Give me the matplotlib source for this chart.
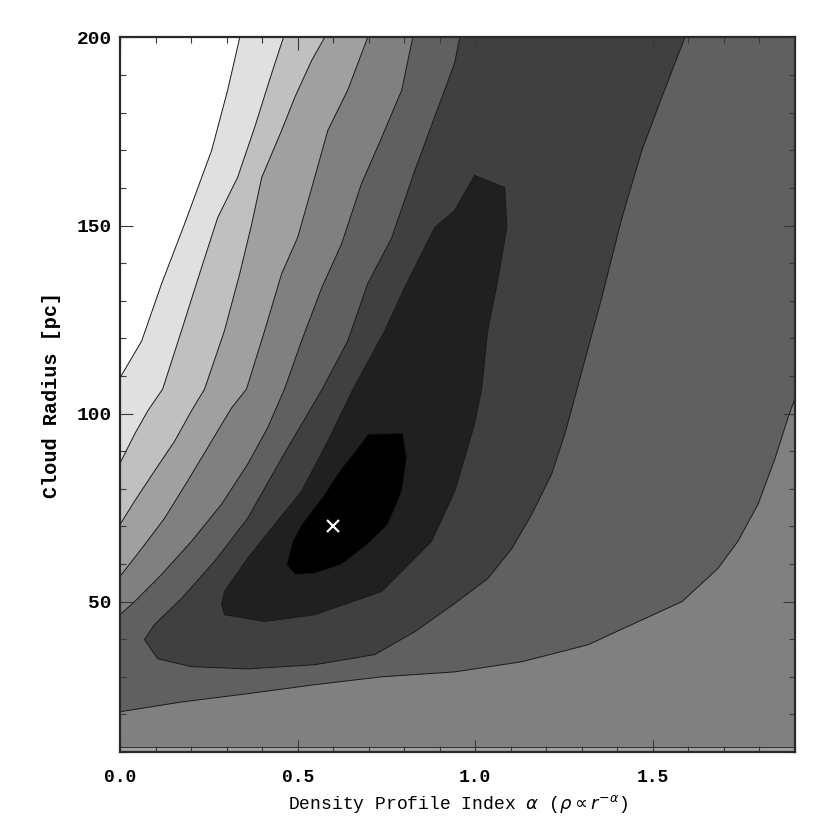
import matplotlib
matplotlib.use("Agg")
import matplotlib.pyplot as plt
from matplotlib.ticker import MultipleLocator, FormatStrFormatter

# ---------------- data ----------------
x_lim = (0.0, 1.9)
y_lim = (10.0, 200.0)

# fill grey value of each chi^2 band, from the minimum (0) outward (8)
band_gray = [0, 32, 64, 96, 128, 160, 192, 224, 255]

# contour between band 8 (white) and band 7
c7_alpha = [0.0, 0.061, 0.117, 0.182, 0.258, 0.303, 0.337]
c7_radius = [109.5, 119.3, 134.5, 150.5, 170.0, 186.0, 200.0]

# contour between band 7 and band 6
c6_alpha = [0.0, 0.041, 0.078, 0.120, 0.173, 0.224, 0.275, 0.331, 0.379, 0.427, 0.460]
c6_radius = [86.8, 94.5, 100.7, 106.5, 122.0, 137.2, 152.1, 162.8, 176.1, 190.5, 200.0]

# contour between band 6 and band 5
c5_alpha = [0.0, 0.041, 0.097, 0.154, 0.201, 0.238, 0.294, 0.337, 0.371, 0.399, 0.455, 0.492, 0.540, 0.576]
c5_radius = [70.5, 76.7, 84.7, 92.7, 100.7, 106.5, 122.0, 137.2, 150.5, 162.8, 175.3, 184.1, 194.0, 200.0]

# contour between band 5 and band 4
c4_alpha = [0.0, 0.061, 0.125, 0.190, 0.258, 0.314, 0.356, 0.407, 0.455, 0.500, 0.540, 0.585, 0.641, 0.697]
c4_radius = [56.7, 64.1, 72.1, 82.0, 92.7, 101.5, 106.5, 122.0, 137.2, 146.8, 160.1, 175.3, 186.0, 200.0]

# contour between band 4 and band 3 (upper-left side)
c3_alpha = [0.0, 0.041, 0.117, 0.201, 0.286, 0.359, 0.415, 0.463, 0.511, 0.568, 0.624, 0.680, 0.737, 0.793, 0.824]
c3_radius = [46.5, 50.0, 57.2, 66.0, 75.9, 86.5, 96.1, 106.5, 119.3, 133.5, 145.2, 161.2, 173.5, 186.0, 200.0]

# contour between band 3 and band 4 (lower-right side)
c3b_alpha = [0.0, 0.173, 0.359, 0.548, 0.737, 0.942, 1.131, 1.317, 1.441, 1.582, 1.683, 1.739, 1.796, 1.844, 1.880, 1.900]
c3b_radius = [20.7, 23.3, 25.5, 27.9, 30.0, 31.3, 34.0, 38.5, 43.9, 50.0, 58.8, 66.0, 75.9, 88.1, 98.8, 104.1]

# contour between band 3 and band 2 (U shape open at the top)
c2_alpha = [0.956, 0.942, 0.830, 0.765, 0.697, 0.641, 0.568, 0.455, 0.359, 0.266, 0.173, 0.097, 0.069,
            0.106, 0.201, 0.359, 0.548, 0.717, 0.830, 0.942, 1.035, 1.103, 1.159, 1.215, 1.252, 1.286,
            1.356, 1.413, 1.469, 1.525, 1.590]
c2_radius = [200.0, 193.2, 164.7, 146.8, 134.5, 119.3, 106.3, 88.1, 72.1, 60.7, 50.8, 43.9, 39.9,
             34.8, 32.7, 32.1, 33.2, 35.9, 42.0, 49.5, 56.1, 64.1, 73.2, 83.9, 94.5, 106.3,
             130.8, 152.1, 170.0, 184.1, 200.0]

# contour between band 2 and band 1 (closed)
c1_alpha = [0.998, 1.083, 1.089, 1.063, 1.035, 1.018, 0.998, 0.970, 0.942, 0.877, 0.737, 0.548, 0.407,
            0.294, 0.286, 0.294, 0.359, 0.435, 0.511, 0.585, 0.655, 0.745, 0.801, 0.886, 0.942]
c1_radius = [163.3, 160.1, 149.5, 135.3, 122.0, 106.5, 97.2, 88.1, 79.3, 66.0, 52.7, 46.5, 44.7,
             46.5, 49.2, 52.7, 61.5, 70.5, 79.3, 92.7, 106.3, 122.0, 133.5, 149.5, 154.0]

# contour between band 1 and band 0 (closed, around the minimum)
c0_alpha = [0.697, 0.796, 0.807, 0.793, 0.754, 0.697, 0.624, 0.548, 0.492, 0.469, 0.486, 0.511, 0.568, 0.624, 0.669]
c0_radius = [94.5, 94.8, 88.1, 79.3, 70.5, 65.2, 59.9, 57.5, 57.2, 59.9, 66.0, 70.5, 77.5, 85.5, 90.8]

# thin band-5 strip along the smallest radii
strip_radius = 11.2

# best fit
best_alpha = 0.6
best_radius = 70.0

x_major = [0.0, 0.5, 1.0, 1.5]
y_major = [50, 100, 150, 200]

# ---------------- drawing ----------------
def gray(level):
    v = band_gray[level] / 255.0
    return (v, v, v)

fig = plt.figure(figsize=(8.3, 8.3), dpi=100)
ax = fig.add_axes([120 / 830, 1 - 752 / 830, 675 / 830, 714.5 / 830])
ax.set_xlim(*x_lim)
ax.set_ylim(*y_lim)
ax.set_facecolor(gray(8))

x0, x1 = x_lim
y0, y1 = y_lim

# open contours from left edge to top edge: fill everything to their lower right
for xs, ys, lev in [(c7_alpha, c7_radius, 7), (c6_alpha, c6_radius, 6),
                    (c5_alpha, c5_radius, 5), (c4_alpha, c4_radius, 4),
                    (c3_alpha, c3_radius, 3)]:
    ax.fill(xs + [x1, x1, x0], ys + [y1, y0, y0], color=gray(lev), lw=0)

# lower-right region back to band 4
ax.fill(c3b_alpha + [x1, x0], c3b_radius + [y0, y0], color=gray(4), lw=0)
# U-shaped band 2
ax.fill(c2_alpha, c2_radius, color=gray(2), lw=0)
# closed band 1 and band 0
ax.fill(c1_alpha, c1_radius, color=gray(1), lw=0)
ax.fill(c0_alpha, c0_radius, color=gray(0), lw=0)
# strip at bottom
ax.fill([x0, x1, x1, x0], [y0, y0, strip_radius, strip_radius], color=gray(5), lw=0)

line_kw = dict(color="#1a1a1a", lw=0.7, solid_joinstyle="round")
for xs, ys in [(c7_alpha, c7_radius), (c6_alpha, c6_radius), (c5_alpha, c5_radius),
               (c4_alpha, c4_radius), (c3_alpha, c3_radius), (c3b_alpha, c3b_radius),
               (c2_alpha, c2_radius)]:
    ax.plot(xs, ys, **line_kw)
for xs, ys in [(c1_alpha, c1_radius), (c0_alpha, c0_radius)]:
    ax.plot(xs + xs[:1], ys + ys[:1], **line_kw)
ax.plot([x0, x1], [strip_radius, strip_radius], color="#303030", lw=0.7)

ax.plot([best_alpha], [best_radius], marker="x", color="white", ms=9, mew=1.6, ls="none")

# axes styling
ax.set_xticks(x_major)
ax.set_yticks(y_major)
ax.xaxis.set_minor_locator(MultipleLocator(0.1))
ax.yaxis.set_minor_locator(MultipleLocator(10))
ax.xaxis.set_major_formatter(FormatStrFormatter("%.1f"))
ax.yaxis.set_major_formatter(FormatStrFormatter("%d"))
ax.tick_params(which="both", direction="in", top=True, right=True, color="#3a3a3a", width=0.8)
ax.tick_params(which="major", length=9)
ax.tick_params(which="minor", length=4.5)
ax.tick_params(axis="x", which="major", pad=12)
ax.tick_params(axis="y", which="major", pad=6)
for s in ax.spines.values():
    s.set_color("#2a2a2a")
    s.set_linewidth(1.6)

for lab in ax.get_xticklabels():
    lab.set_fontfamily("Liberation Mono")
    lab.set_fontweight("bold")
    lab.set_fontsize(13)
for lab in ax.get_yticklabels():
    lab.set_fontfamily("Liberation Mono")
    lab.set_fontweight("bold")
    lab.set_fontsize(14)

ax.set_xlabel(r"Density Profile Index $\alpha$ ($\rho\propto r^{-\alpha}$)",
              family="Liberation Mono", fontsize=13, labelpad=5)
ax.set_ylabel("Cloud Radius [pc]", family="Liberation Mono", weight="bold",
              fontsize=14.5, labelpad=11)

fig.savefig("out.png", dpi=100)
